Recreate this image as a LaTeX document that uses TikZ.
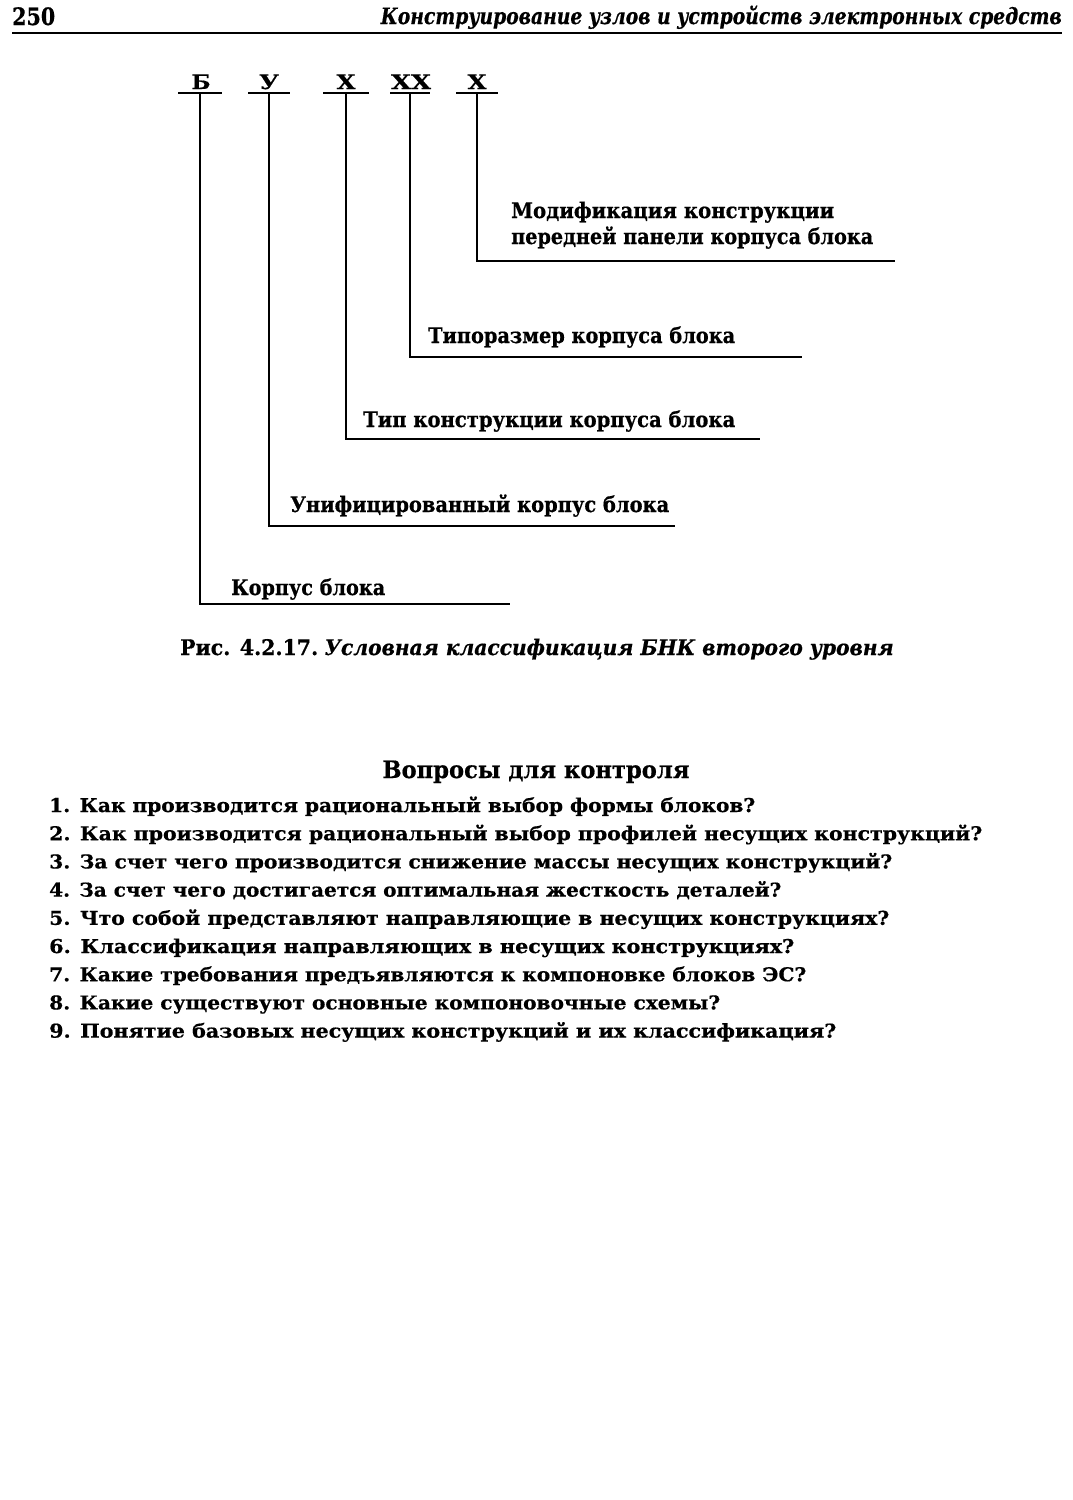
\documentclass[tikz,border=0pt]{standalone}
\usepackage{fontspec}
\setmainfont{DejaVu Serif}[BoldFeatures={FakeBold=0.6},BoldItalicFeatures={FakeBold=0.6}]
\usepackage{graphicx}
\usetikzlibrary{positioning}
% squeeze a text to the width it has on the page
\newcommand{\fitw}[2]{\resizebox{#1}{\height}{#2}}
\tikzset{
	page/.style={x=1pt,y=-1pt},
	lead/.style={line width=1.6pt},
	code/.style={anchor=base,inner sep=0pt,font=\fontsize{20}{20}\selectfont\bfseries},
	lbl/.style={anchor=base west,inner sep=0pt,font=\fontsize{21.5}{21.5}\selectfont\bfseries},
	qline/.style={anchor=base west,inner sep=0pt,font=\fontsize{19}{19}\selectfont\bfseries}
}
\begin{document}
\begin{tikzpicture}[page]
	\fill[white] (0,0) rectangle (1073,1500);
	\useasboundingbox (0,0) rectangle (1073,1500);
	%Draw page head
	\node[anchor=base west,inner sep=0pt,font=\fontsize{24}{24}\selectfont\bfseries] (pnum) at (12,25) {\fitw{43pt}{250}};
	\node[anchor=base east,inner sep=0pt,font=\fontsize{22.5}{22.5}\selectfont\bfseries\itshape] (head) at (1062,24) {\fitw{681pt}{Конструирование узлов и устройств электронных средств}};
	\draw[lead] (12,33) -- (1062,33);

	%Draw code letters
	\node[code] (cB)  at (201,89) {\fitw{19pt}{Б}};
	\node[code] (cU)  at (269,89) {\fitw{20pt}{У}};
	\node[code] (cX1) at (346,89) {\fitw{19pt}{Х}};
	\node[code] (cX2) at (411,89) {\fitw{40pt}{ХХ}};
	\node[code] (cX3) at (477,89) {\fitw{19pt}{Х}};
	%Draw bars under the letters
	\draw[lead] (178,93) -- coordinate (bB)  (222,93);
	\draw[lead] (248,93) -- coordinate (bU)  (290,93);
	\draw[lead] (323,93) -- coordinate (bX1) (369,93);
	\draw[lead] (390,93) -- coordinate (bX2) (430,93);
	\draw[lead] (456,93) -- coordinate (bX3) (498,93);

	%Draw label ends
	\coordinate (eB)  at (510,604);
	\coordinate (eU)  at (675,526);
	\coordinate (eX1) at (760,439);
	\coordinate (eX2) at (802,357);
	\coordinate (eX3) at (895,261);
	%Draw lead lines
	\draw[lead] (bB)  |- (eB);
	\draw[lead] (bU)  |- (eU);
	\draw[lead] (bX1) |- (eX1);
	\draw[lead] (bX2) |- (eX2);
	\draw[lead] (bX3) |- (eX3);

	%Draw labels
	\node[lbl] (lX3a) at (511,218) {\fitw{323pt}{Модификация конструкции}};
	\node[lbl] (lX3b) at (511,244) {\fitw{362pt}{передней панели корпуса блока}};
	\node[lbl] (lX2)  at (428,343) {\fitw{307pt}{Типоразмер корпуса блока}};
	\node[lbl] (lX1)  at (363,427) {\fitw{372pt}{Тип конструкции корпуса блока}};
	\node[lbl] (lU)   at (290,512) {\fitw{379pt}{Унифицированный корпус блока}};
	\node[lbl] (lB)   at (231,595) {\fitw{154pt}{Корпус блока}};

	%Draw caption
	\node[lbl] (capn) at (180,655) {\fitw{138pt}{Рис. 4.2.17.}};
	\node[lbl,font=\fontsize{21.5}{21.5}\selectfont\bfseries\itshape,right=6pt of capn.base east,anchor=base west] (capt) {\fitw{569pt}{Условная классификация БНК второго уровня}};

	%Draw questions
	\node[anchor=base,inner sep=0pt,font=\fontsize{24}{24}\selectfont\bfseries] (qhead) at (536,778) {\fitw{307pt}{Вопросы для контроля}};
	\foreach \n/\w/\t in {
		1/706/{Как производится рациональный выбор формы блоков?},
		2/933/{Как производится рациональный выбор профилей несущих конструкций?},
		3/843/{За счет чего производится снижение массы несущих конструкций?},
		4/732/{За счет чего достигается оптимальная жесткость деталей?},
		5/840/{Что собой представляют направляющие в несущих конструкциях?},
		6/745/{Классификация направляющих в несущих конструкциях?},
		7/757/{Какие требования предъявляются к компоновке блоков ЭС?},
		8/671/{Какие существуют основные компоновочные схемы?},
		9/787/{Понятие базовых несущих конструкций и их классификация?}}
		\node[qline] (q\n) at (49,{812+28.2*(\n-1)}) {\fitw{\w pt}{\n. \t}};
\end{tikzpicture}
\end{document}
